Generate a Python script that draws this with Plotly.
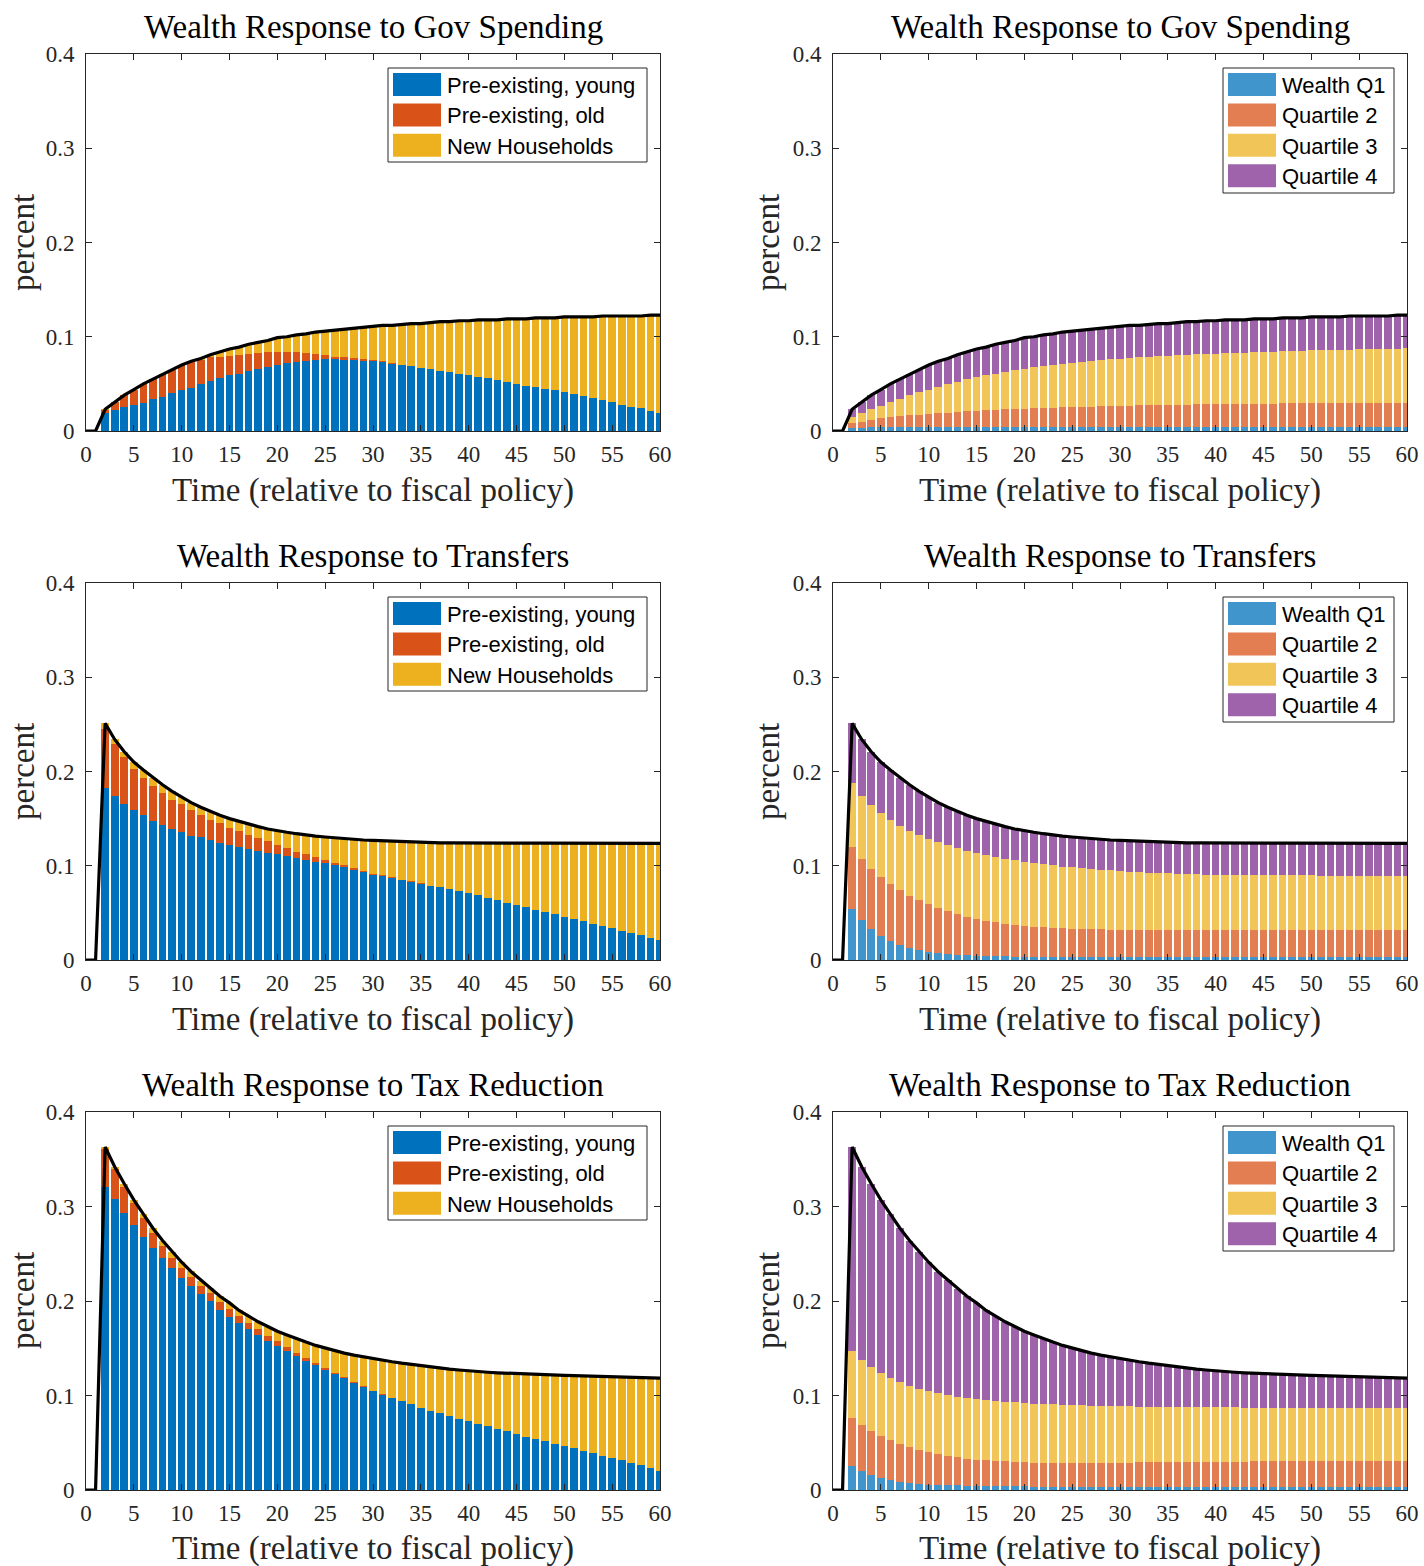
import plotly.graph_objects as go

W, H = 1424, 1566

time = list(range(61))

# ---------------- Row 1: Gov Spending ----------------
total_gov = [0, 0,
    .023, .031, .038, .044, .050, .055, .060, .065, .070, .074, .077, .081, .084, .087, .089, .092, .094, .096,
    .099, .100, .102, .103, .105, .106, .107, .108, .109, .110, .111, .112, .112, .113, .114, .114, .115, .116,
    .116, .117, .117, .118, .118, .118, .119, .119, .119, .120, .120, .120, .121, .121, .121, .121, .122, .122,
    .122, .122, .122, .123, .123]
young_gov = [0, 0,
    .019, .022, .025, .028, .030, .034, .036, .040, .043, .046, .050, .053, .056, .059, .061, .064, .066, .068,
    .070, .072, .073, .074, .075, .076, .076, .075, .075, .074, .074, .073, .071, .070, .069, .067, .066, .064,
    .063, .061, .059, .057, .056, .054, .052, .050, .048, .047, .045, .043, .041, .039, .037, .035, .033, .031,
    .028, .026, .024, .021, .019]
old_gov = [0, 0,
    .003, .009, .013, .016, .020, .021, .024, .025, .027, .027, .025, .025, .023, .021, .020, .018, .017, .016,
    .014, .012, .011, .009, .007, .005, .003, .003, .002, .002, .001, .001, .001, .0005, .0005, 0, 0, 0,
    0, 0, 0, 0, 0, 0, 0, 0, 0, 0, 0, 0, 0, 0, 0, 0, 0, 0,
    0, 0, 0, 0, 0]
new_gov = [0, 0,
    .001, 0, 0, 0, 0, 0, 0, 0, 0, .001, .002, .003, .005, .007, .008, .010, .011, .012,
    .015, .016, .018, .020, .023, .025, .028, .030, .032, .034, .036, .038, .040, .0425, .0445, .047, .049, .052,
    .053, .056, .058, .061, .062, .064, .067, .069, .071, .073, .075, .077, .080, .082, .084, .086, .089, .091,
    .094, .096, .098, .102, .104]
q1_gov = [0, 0,
    .003, .003, .004, .004, .004, .004, .004, .004, .004, .004, .004, .004, .004, .004, .004, .004, .004, .004,
    .004, .004, .004, .004, .004, .004, .004, .004, .004, .004, .004, .004, .004, .004, .004, .004, .004, .004,
    .004, .004, .004, .004, .004, .004, .004, .004, .004, .004, .004, .004, .004, .004, .004, .004, .004, .004,
    .004, .004, .004, .004, .004]
q2_gov = [0, 0,
    .005, .007, .008, .0095, .0105, .012, .0126, .0133, .0144, .015, .0155, .016, .017, .0176, .018, .0185, .019, .0193,
    .0196, .020, .0203, .0207, .021, .0214, .0218, .022, .0223, .0226, .0228, .023, .0232, .0234, .0236, .0238, .024, .0241,
    .0242, .0244, .0245, .0246, .0247, .0248, .0249, .025, .0251, .0252, .0253, .0254, .0255, .0256, .0256, .0257, .0257, .0258,
    .0258, .0259, .0259, .026, .026]
q3_gov = [0, 0,
    .007, .0095, .0113, .0135, .0165, .018, .0214, .0237, .0256, .028, .0305, .032, .034, .0354, .037, .0385, .040, .0414,
    .0424, .0436, .0447, .0453, .046, .0466, .0472, .048, .0487, .0494, .0499, .0504, .0508, .0513, .0517, .0522, .0524, .0527,
    .053, .0532, .0535, .0538, .0541, .0544, .0547, .055, .0552, .0554, .0556, .0558, .056, .0562, .0564, .0565, .0567, .0569,
    .0571, .0572, .0574, .0575, .0577]
q4_gov = [0, 0,
    .008, .0115, .0147, .017, .019, .021, .022, .024, .026, .027, .027, .029, .029, .030, .030, .031, .031, .0313,
    .033, .0324, .033, .033, .034, .034, .034, .034, .034, .034, .0343, .0346, .034, .0343, .0347, .034, .0346, .0352,
    .0348, .0354, .035, .0356, .0352, .0348, .0354, .035, .0347, .0354, .0351, .0348, .0355, .0352, .035, .0348, .0356, .0353,
    .0351, .0349, .0347, .0355, .0353]

# ---------------- Row 2: Transfers ----------------
total_tr = [0, 0,
    .251, .234, .221, .210, .2015, .1935, .186, .179, .1725, .167, .162, .1575, .1535, .150, .147, .144, .1415, .139,
    .137, .1355, .134, .1325, .1315, .1305, .1295, .1287, .128, .1273, .127, .1265, .126, .1255, .125, .1248, .1245, .1243,
    .1242, .1241, .124, .124, .124, .124, .124, .124, .124, .124, .124, .124, .124, .1239, .1239, .1239, .1239, .1238,
    .1238, .1238, .1238, .1238, .1238]
young_tr = [0, 0,
    .183, .174, .166, .159, .1535, .148, .143, .139, .136, .132, .130, .127, .1245, .122, .120, .118, .116, .114,
    .112, .110, .108, .1065, .1045, .1025, .1005, .0985, .096, .093, .0905, .089, .087, .085, .083, .081, .079, .077,
    .075, .073, .071, .0685, .066, .0635, .061, .0585, .056, .0535, .051, .0485, .046, .0435, .041, .0385, .036, .0335,
    .031, .0285, .026, .0235, .021]
old_tr = [0, 0,
    .062, .055, .049, .044, .040, .037, .034, .031, .029, .027, .024, .022, .0205, .0185, .0165, .015, .013, .012,
    .010, .009, .007, .0055, .0045, .0035, .0025, .002, .0015, .0012, .001, .0008, .0006, .0004, .0003, .0002, 0, 0,
    0, 0, 0, 0, 0, 0, 0, 0, 0, 0, 0, 0, 0, 0, 0, 0, 0, 0,
    0, 0, 0, 0, 0]
new_tr = [0, 0,
    .006, .005, .006, .007, .008, .0085, .009, .009, .0075, .008, .008, .0085, .0085, .0095, .0105, .011, .0125, .013,
    .015, .0165, .019, .0205, .0225, .0245, .0265, .0282, .0305, .0331, .0355, .0367, .0384, .0401, .0417, .0436, .0455, .0473,
    .0492, .0511, .053, .0555, .058, .0605, .063, .0655, .068, .0705, .073, .0755, .078, .0804, .0829, .0854, .0879, .0903,
    .0928, .0953, .0978, .1003, .1028]
q1_tr = [0, 0,
    .054, .042, .0325, .0255, .020, .016, .013, .0106, .0088, .0074, .0064, .0055, .0048, .0044, .0041, .0039, .0038, .0037,
    .0036, .0036, .0036, .0036, .0036, .0036, .0036, .0036, .0036, .0036, .0036, .0036, .0036, .0036, .0036, .0036, .0036, .0036,
    .0036, .0036, .0036, .0036, .0036, .0036, .0036, .0036, .0036, .0036, .0036, .0036, .0036, .0036, .0036, .0036, .0036, .0036,
    .0036, .0036, .0036, .0036, .0036]
q2_tr = [0, 0,
    .066, .065, .0641, .0625, .0606, .0583, .0552, .0531, .0503, .0482, .0453, .0433, .0412, .0394, .0376, .0361, .0347, .0334,
    .0328, .0317, .031, .0304, .030, .0293, .0291, .0289, .0288, .0287, .0286, .0284, .0284, .0284, .0284, .0284, .0284, .0284,
    .0284, .0284, .0284, .0284, .0284, .0284, .0284, .0284, .0284, .0284, .0284, .0284, .0284, .0284, .0284, .0284, .0284, .0284,
    .0284, .0284, .0284, .0284, .0284]
q3_tr = [0, 0,
    .0675, .0674, .0674, .068, .0679, .0682, .0688, .0689, .0696, .0696, .0703, .0702, .070, .0701, .070, .0696, .069, .069,
    .0679, .0679, .0673, .0665, .0654, .0654, .0646, .0641, .0634, .0628, .0622, .0618, .0612, .0607, .0602, .0598, .0594, .0591,
    .0588, .0586, .0584, .0583, .0582, .0581, .058, .058, .0579, .0578, .0578, .0577, .0577, .0576, .0576, .0575, .0575, .0575,
    .0574, .0574, .0574, .0573, .0573]
q4_tr = [0, 0,
    .0635, .0596, .057, .054, .053, .051, .049, .0464, .0438, .0418, .040, .0385, .0375, .0361, .0353, .0344, .034, .0329,
    .0327, .0323, .0321, .032, .0325, .0322, .0322, .0321, .0322, .0322, .0326, .0327, .0328, .0328, .0328, .033, .0331, .0332,
    .0334, .0335, .0336, .0337, .0338, .0339, .034, .034, .0341, .0342, .0342, .0343, .0343, .0343, .0343, .0344, .0344, .0343,
    .0344, .0344, .0344, .0345, .0345]

# ---------------- Row 3: Tax Reduction ----------------
total_tax = [0, 0,
    .363, .342, .324, .307, .292, .277, .264, .252, .241, .231, .222, .213, .205, .198, .190, .184, .178, .173,
    .168, .164, .160, .1565, .153, .150, .147, .1448, .1427, .1408, .139, .1373, .1357, .1342, .1328, .1315, .1302, .129,
    .128, .127, .126, .1253, .1246, .124, .1235, .123, .1226, .1222, .1219, .1216, .1213, .121, .1207, .1204, .1201, .1198,
    .1195, .1192, .1189, .1186, .1183]
young_tax = [0, 0,
    .321, .3075, .2935, .2805, .268, .2565, .245, .2345, .2245, .216, .207, .1995, .191, .1835, .177, .1705, .164, .158,
    .1525, .147, .142, .137, .132, .127, .1225, .118, .1135, .109, .1045, .101, .0975, .094, .0905, .087, .084, .081,
    .0785, .0755, .073, .070, .0675, .0645, .062, .059, .0565, .054, .0515, .049, .0465, .044, .0415, .039, .0365, .034,
    .0315, .0285, .026, .023, .020]
old_tax = [0, 0,
    .0395, .032, .0275, .023, .0195, .0155, .013, .0115, .0105, .0098, .009, .0087, .0082, .0077, .0072, .0066, .006, .0053,
    .0047, .004, .0034, .0028, .0023, .0019, .0016, .0013, .001, .0008, .0006, .0004, .0003, .0002, 0, 0, 0, 0,
    0, 0, 0, 0, 0, 0, 0, 0, 0, 0, 0, 0, 0, 0, 0, 0, 0, 0,
    0, 0, 0, 0, 0]
new_tax = [0, 0,
    .0025, .0025, .003, .0035, .0045, .005, .006, .006, .006, .0055, .0055, .0055, .006, .0065, .006, .007, .008, .0097,
    .0108, .013, .0146, .0167, .0187, .0211, .0229, .0255, .0282, .031, .0339, .0359, .0379, .040, .0423, .0445, .0462, .048,
    .0495, .0515, .053, .0553, .0571, .0595, .0615, .064, .0661, .0682, .0704, .0726, .0748, .077, .0792, .0814, .0836, .0858,
    .088, .0907, .0929, .0956, .0983]
q1_tax = [0, 0,
    .0254, .020, .016, .013, .0106, .0088, .0074, .0063, .0056, .0052, .005, .0048, .0046, .0044, .0042, .0041, .004, .0039,
    .0038, .0036, .0036, .0036, .0036, .0036, .0036, .0036, .0036, .0036, .0036, .0036, .0036, .0036, .0036, .0036, .0036, .0036,
    .0036, .0036, .0036, .0036, .0036, .0036, .0036, .0036, .0036, .0036, .0036, .0036, .0036, .0036, .0036, .0036, .0036, .0036,
    .0036, .0036, .0036, .0036, .0036]
q2_tax = [0, 0,
    .0504, .0488, .0468, .0445, .0423, .0402, .0385, .0364, .0346, .0329, .031, .0298, .0286, .0277, .0272, .0266, .0262, .0257,
    .0255, .0254, .0254, .0254, .0254, .0254, .0254, .0254, .0254, .0254, .0254, .0255, .0256, .0257, .0258, .0259, .026, .0261,
    .0262, .0263, .0264, .0264, .0265, .0265, .0266, .0266, .0267, .0267, .0268, .0268, .0268, .0269, .0269, .0269, .027, .027,
    .027, .027, .0271, .0271, .0271]
q3_tax = [0, 0,
    .0716, .0688, .067, .066, .0656, .0653, .0645, .0645, .0646, .0642, .0645, .0642, .0642, .0642, .0638, .0635, .0633, .0632,
    .0627, .0625, .062, .0616, .0613, .061, .0606, .0603, .060, .0598, .0596, .0593, .0591, .0589, .0587, .0585, .0583, .0581,
    .0579, .0577, .0575, .0574, .0573, .0572, .0571, .057, .0569, .0568, .0567, .0567, .0566, .0566, .0565, .0565, .0564, .0564,
    .0564, .0563, .0563, .0563, .0563]
q4_tax = [0, 0,
    .2156, .2044, .1942, .1835, .1735, .1627, .1536, .1448, .1362, .1287, .1215, .1142, .1076, .1017, .0948, .0898, .0845, .0802,
    .076, .0725, .069, .0659, .0627, .060, .0574, .0555, .0537, .052, .0504, .0489, .0474, .046, .0447, .0435, .0423, .0412,
    .0403, .0394, .0385, .0379, .0372, .0367, .0362, .0358, .0354, .0351, .0348, .0345, .0343, .0339, .0337, .0334, .0331, .0328,
    .0325, .0323, .0319, .0316, .0313]

titles = ["Wealth Response to Gov Spending", "Wealth Response to Transfers", "Wealth Response to Tax Reduction"]
age_names = ["Pre-existing, young", "Pre-existing, old", "New Households"]
quart_names = ["Wealth Q1", "Quartile 2", "Quartile 3", "Quartile 4"]
age_colors = ["#0072BD", "#D95319", "#EDB120"]
quart_colors = ["#3F95CC", "#E27E52", "#F1C558", "#9E63AA"]
xticks = list(range(0, 61, 5))
yticks = [0, 0.1, 0.2, 0.3, 0.4]
ytick_text = ["0", "0.1", "0.2", "0.3", "0.4"]

rows = [
    (total_gov, [young_gov, old_gov, new_gov], [q1_gov, q2_gov, q3_gov, q4_gov]),
    (total_tr, [young_tr, old_tr, new_tr], [q1_tr, q2_tr, q3_tr, q4_tr]),
    (total_tax, [young_tax, old_tax, new_tax], [q1_tax, q2_tax, q3_tax, q4_tax]),
]

SERIF = "Liberation Serif"
SANS = "Liberation Sans"
AXC = "#262626"

def px(x):
    return x / W

def py(y):
    return 1 - y / H

# pixel geometry
left_x = (86, 660)
right_x = (833, 1407)
row_y = [(54, 431), (583, 960), (1112, 1490)]

fig = go.Figure()
layout = dict(width=W, height=H, margin=dict(l=0, r=0, t=0, b=0, autoexpand=False),
              paper_bgcolor="white", plot_bgcolor="white", barmode="stack",
              showlegend=False, bargap=0.2)
shapes = []
annotations = []

ax_idx = 0
for r, (total, age_series, quart_series) in enumerate(rows):
    for c in range(2):
        ax_idx += 1
        xa = "x" if ax_idx == 1 else f"x{ax_idx}"
        ya = "y" if ax_idx == 1 else f"y{ax_idx}"
        series = age_series if c == 0 else quart_series
        names = age_names if c == 0 else quart_names
        colors = age_colors if c == 0 else quart_colors
        for s, nm, col in zip(series, names, colors):
            fig.add_trace(go.Bar(x=time, y=s, name=nm, marker=dict(color=col, line=dict(width=0)),
                                 width=0.8, xaxis=xa, yaxis=ya, hoverinfo="skip"))
        fig.add_trace(go.Scatter(x=time, y=total, mode="lines", line=dict(color="black", width=3.2),
                                 xaxis=xa, yaxis=ya, hoverinfo="skip"))
        xr = left_x if c == 0 else right_x
        yr = row_y[r]
        xkey = "xaxis" if ax_idx == 1 else f"xaxis{ax_idx}"
        ykey = "yaxis" if ax_idx == 1 else f"yaxis{ax_idx}"
        layout[xkey] = dict(domain=[px(xr[0]), px(xr[1])], anchor=ya, range=[0, 60],
                            tickvals=xticks, ticks="inside", ticklen=6, tickcolor=AXC,
                            showline=True, linecolor=AXC, linewidth=1, mirror="ticks",
                            showgrid=False, zeroline=False, fixedrange=True, automargin=False,
                            tickfont=dict(family=SERIF, size=23, color=AXC), ticklabelstandoff=2)
        layout[ykey] = dict(domain=[py(yr[1]), py(yr[0])], anchor=xa, range=[0, 0.4],
                            tickvals=yticks, ticktext=ytick_text, ticks="inside", ticklen=6, tickcolor=AXC,
                            showline=True, linecolor=AXC, linewidth=1, mirror="ticks",
                            showgrid=False, zeroline=False, fixedrange=True, automargin=False,
                            tickfont=dict(family=SERIF, size=23, color=AXC), ticklabelstandoff=6)
        off = r * 529
        # title
        annotations.append(dict(x=px(373 if c == 0 else 1120), y=py(27 + off), xref="paper", yref="paper",
                                text=titles[r], showarrow=False, xanchor="center", yanchor="middle",
                                font=dict(family=SERIF, size=33, color="black")))
        # x label
        annotations.append(dict(x=px(373 if c == 0 else 1120), y=py(490 + off), xref="paper", yref="paper",
                                text="Time (relative to fiscal policy)", showarrow=False, xanchor="center",
                                yanchor="middle", font=dict(family=SERIF, size=33, color=AXC)))
        # y label
        annotations.append(dict(x=px(23 if c == 0 else 768), y=py(243 + off), xref="paper", yref="paper",
                                text="percent", showarrow=False, textangle=-90, xanchor="center",
                                yanchor="middle", font=dict(family=SERIF, size=33, color=AXC)))
        # custom legend
        if c == 0:
            bx0, bx1, by0, by1 = 388, 647, 68 + off, 162 + off
            sw0, sw1, tx = 393, 441, 445
        else:
            bx0, bx1, by0, by1 = 1223, 1394, 68 + off, 193 + off
            sw0, sw1, tx = 1228, 1276, 1280
        shapes.append(dict(type="rect", xref="paper", yref="paper", x0=px(bx0), x1=px(bx1),
                           y0=py(by1), y1=py(by0), line=dict(color=AXC, width=1), fillcolor="white"))
        for k, (nm, col) in enumerate(zip(names, colors)):
            cyk = 84.5 + off + k * 30.4
            shapes.append(dict(type="rect", xref="paper", yref="paper", x0=px(sw0), x1=px(sw1),
                               y0=py(cyk + 11.5), y1=py(cyk - 11.5), line=dict(width=0), fillcolor=col))
            annotations.append(dict(x=px(tx), y=py(cyk + 1), xref="paper", yref="paper", text=nm,
                                    showarrow=False, xanchor="left", yanchor="middle",
                                    font=dict(family=SANS, size=22, color="black")))

layout["shapes"] = shapes
layout["annotations"] = annotations
fig.update_layout(**layout)
fig.write_html("out.html", config={"displayModeBar": False, "staticPlot": True},
               post_script="document.body.style.margin='0';document.body.style.overflow='hidden';")
